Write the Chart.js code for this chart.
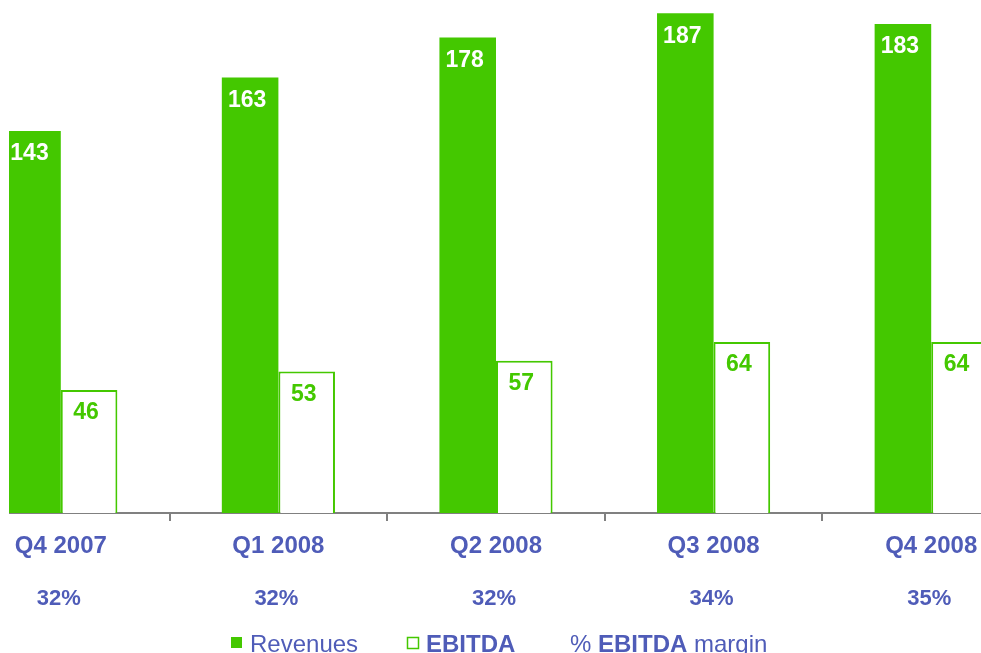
<!DOCTYPE html>
<html lang="en">
<head>
    <meta charset="UTF-8">
    <title>Revenues and EBITDA</title>
    <script src="https://cdn.jsdelivr.net/npm/chart.js"></script>
    <style>
        html, body { margin: 0; padding: 0; background: #fff; overflow: hidden; }
        #wrap { position: absolute; left: 9px; top: 0; width: 972px; height: 653px; overflow: hidden; }
        #chart { position: absolute; left: -57px; top: 0; }
    </style>
</head>
<body>
    <div id="wrap"><canvas id="chart" width="1088" height="653"></canvas></div>

    <script>
        const quarters = ['Q4 2007', 'Q1 2008', 'Q2 2008', 'Q3 2008', 'Q4 2008'];
        const revenues = [143, 163, 178, 187, 183];
        const ebitda = [46, 53, 57, 64, 64];
        const margins = ['32%', '32%', '32%', '34%', '35%'];

        const green = '#44c800';
        const blue = '#4f5cb8';
        const fontFamily = '"Liberation Sans", Arial, sans-serif';
        const shift = 48; // canvas starts 48px left of the page

        // value labels inside the bars + margin row under the quarters
        const barLabels = {
            id: 'barLabels',
            afterDatasetsDraw(chart) {
                const ctx = chart.ctx;
                ctx.save();
                ctx.font = 'bold 23px ' + fontFamily;
                ctx.textAlign = 'center';
                ctx.textBaseline = 'middle';
                chart.data.datasets.forEach((ds, i) => {
                    ctx.fillStyle = i === 0 ? '#ffffff' : green;
                    chart.getDatasetMeta(i).data.forEach((bar, j) => {
                        ctx.fillText(ds.data[j], bar.x - (i === 0 ? 3 : 3), bar.y + 23);
                    });
                });

                const xs = chart.scales.x;
                ctx.fillStyle = blue;
                ctx.font = 'bold 22px ' + fontFamily;
                margins.forEach((m, i) => {
                    ctx.fillText(m, xs.getPixelForValue(i) - 2, 599);
                });
                ctx.restore();
            }
        };

        // legend row along the bottom
        const bottomLegend = {
            id: 'bottomLegend',
            afterDraw(chart) {
                const ctx = chart.ctx;
                const y = 652;
                ctx.save();
                ctx.textBaseline = 'alphabetic';
                ctx.textAlign = 'left';
                ctx.fillStyle = green;
                ctx.fillRect(231 + shift, 637, 11, 11);
                ctx.fillStyle = blue;
                ctx.font = '24px ' + fontFamily;
                ctx.fillText('Revenues', 250 + shift, y);

                ctx.strokeStyle = green;
                ctx.lineWidth = 1.5;
                ctx.strokeRect(407.5 + shift, 637.5, 11, 11);
                ctx.fillStyle = blue;
                ctx.font = 'bold 24px ' + fontFamily;
                ctx.fillText('EBITDA', 426 + shift, y);

                let x = 570 + shift;
                ctx.font = '24px ' + fontFamily;
                ctx.fillText('% ', x, y);
                x += ctx.measureText('% ').width;
                ctx.font = 'bold 24px ' + fontFamily;
                ctx.fillText('EBITDA', x, y);
                x += ctx.measureText('EBITDA ').width;
                ctx.font = '24px ' + fontFamily;
                ctx.fillText('margin', x, y);
                ctx.restore();
            }
        };

        new Chart(document.getElementById('chart').getContext('2d'), {
            type: 'bar',
            data: {
                labels: quarters,
                datasets: [
                    {
                        label: 'Revenues',
                        data: revenues,
                        backgroundColor: green,
                        borderWidth: 0
                    },
                    {
                        label: 'EBITDA',
                        data: ebitda,
                        backgroundColor: '#ffffff',
                        borderColor: green,
                        borderWidth: 2,
                        borderSkipped: 'bottom'
                    }
                ]
            },
            options: {
                responsive: false,
                animation: false,
                layout: { padding: 0 },
                datasets: {
                    bar: { categoryPercentage: 0.52, barPercentage: 1 }
                },
                plugins: {
                    legend: { display: false },
                    tooltip: { enabled: false }
                },
                scales: {
                    x: {
                        offset: true,
                        grid: {
                            offset: true,
                            drawOnChartArea: false,
                            color: '#808080',
                            lineWidth: 2,
                            tickLength: 8
                        },
                        border: { color: '#808080', width: 2 },
                        ticks: {
                            autoSkip: false,
                            maxRotation: 0,
                            padding: 11,
                            color: blue,
                            font: { family: fontFamily, size: 24, weight: 'bold' }
                        },
                        afterFit(scale) { scale.height = 140; }
                    },
                    y: {
                        display: false,
                        min: 0,
                        max: 192
                    }
                }
            },
            plugins: [barLabels, bottomLegend]
        });
    </script>
</body>
</html>
